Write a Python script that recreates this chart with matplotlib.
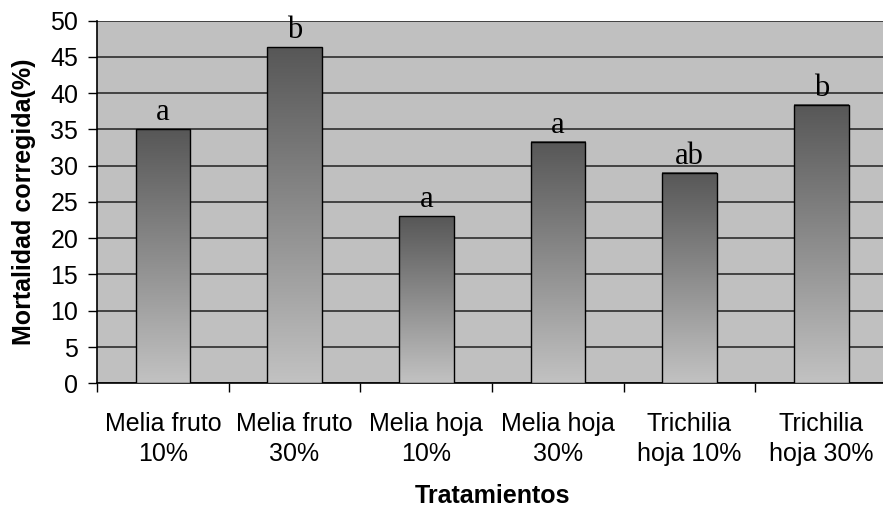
import numpy as np
from matplotlib import pyplot as plt
from matplotlib.colors import LinearSegmentedColormap

tratamientos = ['Melia fruto\n10%', 'Melia fruto\n30%', 'Melia hoja\n10%',
                'Melia hoja\n30%', 'Trichilia\nhoja 10%', 'Trichilia\nhoja 30%']
mortalidad = [35.0, 46.3, 23.0, 33.3, 29.0, 38.4]
letras = ['a', 'b', 'a', 'a', 'ab', 'b']

plt.rcParams['font.family'] = ['Liberation Sans', 'DejaVu Sans']

fig = plt.figure(figsize=(8.83, 5.09), dpi=100)
# el area de trazado se sale un poco por la derecha, como en el original
ax = fig.add_axes([0.1099, 0.247, 0.8947, 0.7124])
ax.set_facecolor('#c0c0c0')

cmap = LinearSegmentedColormap.from_list('gris', ['#c2c2c2', '#575757'])
grad = np.linspace(0, 1, 256).reshape(-1, 1)
ancho = 0.415

x = np.arange(len(tratamientos))
for xi, v, l in zip(x, mortalidad, letras):
    ax.imshow(grad, extent=[xi - ancho / 2, xi + ancho / 2, 0, v], origin='lower',
              aspect='auto', cmap=cmap, zorder=3)
    ax.bar(xi, v, width=ancho, facecolor='none', edgecolor='black', linewidth=1, zorder=4)
    ax.text(xi, v + 0.3, l, ha='center', va='bottom', fontsize=22,
            family='Liberation Serif', zorder=5)

ax.set_xlim(-0.5, len(tratamientos) - 0.5)
ax.set_ylim(0, 50)
ax.set_yticks(range(0, 51, 5))
ax.yaxis.grid(True, color='#202020', linewidth=1.1)
ax.set_axisbelow(True)

ax.set_xticks(x)
ax.set_xticklabels(tratamientos, fontsize=18, linespacing=1.3)
ax.set_xticks(np.arange(-0.5, len(tratamientos)), minor=True)
ax.tick_params(axis='x', which='major', length=0, pad=21)
ax.tick_params(axis='x', which='minor', length=6.5, width=1)
ax.tick_params(axis='y', labelsize=18, length=6.5, width=1, pad=7)

for s in ['top', 'right']:
    ax.spines[s].set_visible(False)
ax.spines['left'].set_linewidth(1.2)
ax.spines['bottom'].set_linewidth(1.2)

ax.set_ylabel('Mortalidad corregida(%)', fontsize=18, fontweight='bold', labelpad=10)
ax.set_xlabel('Tratamientos', fontsize=18, fontweight='bold', labelpad=13)

fig.savefig('out.png', dpi=100)
